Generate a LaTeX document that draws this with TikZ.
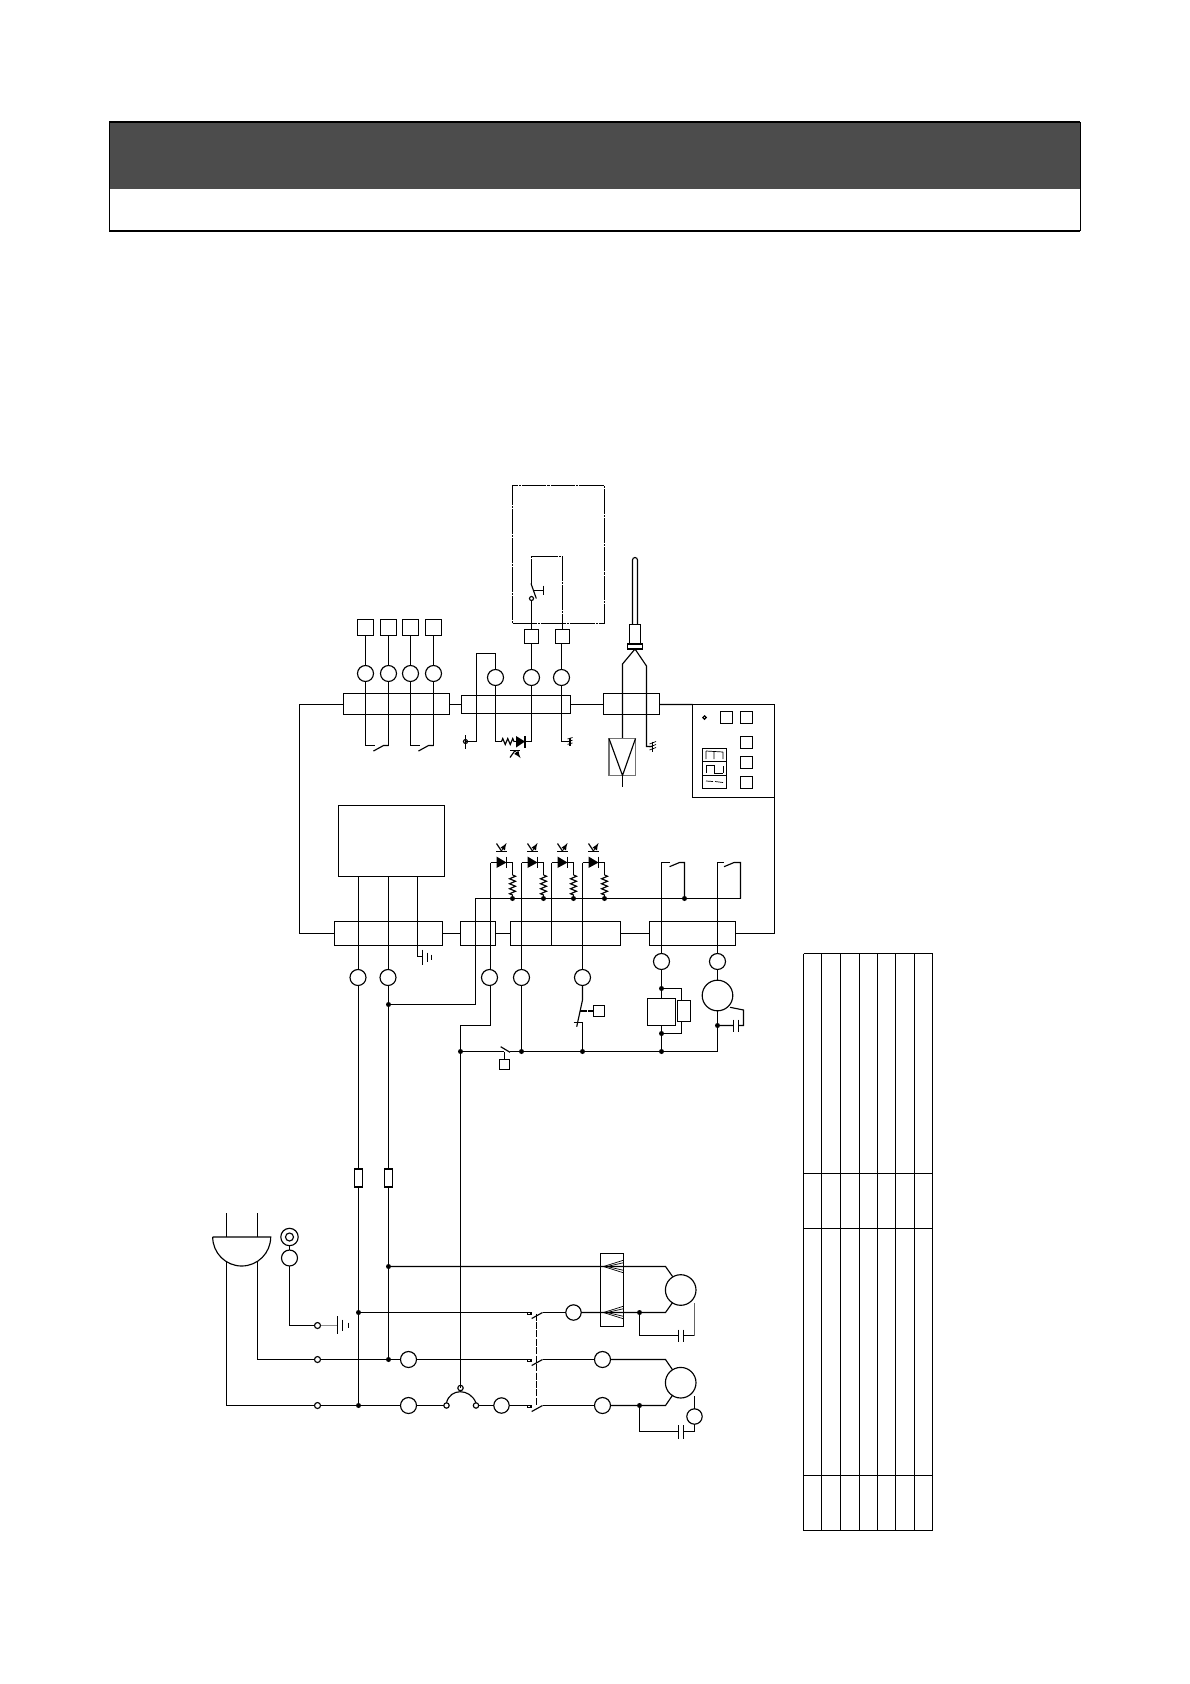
\documentclass[tikz,border=0pt]{standalone}
\usetikzlibrary{decorations.pathmorphing}
\def\u{0.02cm}
\tikzset{
	cerchio/.style={circle,draw,inner sep=0,outer sep=0,minimum size=#1*\u},
	cerchio/.default=16,
	quadro/.style={rectangle,draw,inner sep=0,outer sep=0,minimum size=#1*\u},
	barra/.style 2 args={rectangle,draw,inner sep=0,outer sep=0,minimum width=#1*\u,minimum height=#2*\u},
	nodo/.style={circle,fill=black,inner sep=0,outer sep=0,minimum size=5*\u},
	molla/.style={decorate,decoration={zigzag,segment length=5*\u,amplitude=3*\u}},
	tratto/.style={dash pattern=on 14pt off 0.6pt on 1.2pt off 0.6pt},
	trattini/.style={dash pattern=on 4pt off 0.8pt},
	fine/.style={line width=0.4pt}
}
\begin{document}
\begin{tikzpicture}[>=latex, x=\u, y=-\u, line width=0.65pt]
	\useasboundingbox (0,0) rectangle (1190,1684);
	\def\Ya{1266.5}
	\def\Yb{1312.5}
	\def\Yc{1359.5}
	\def\Yd{1405.5}
	\def\Ysu{704.5}
	\def\Ygiu{933.5}

	% --- Intestazione ---
	\fill[black!70] (109,122) rectangle (1080,189);
	\draw[fine] (109,122) -- (109,231) (1080,122) -- (1080,231);
	\draw[line width=1pt] (109,122) -- (1080,122) (109,231) -- (1080,231);

	% --- Tabella ---
	\foreach \x in {803.5,821.5,840.5,859.5,877.5,895.5,914.5,932.5}
		\draw (\x,953.5) -- (\x,1530.5);
	\foreach \y in {953.5,1173.5,1228.5,1475.5,1530.5}
		\draw (803.5,\y) -- (932.5,\y);

	% --- Morsettiere ---
	\node[barra={106}{21}] (mA) at (396.5,704) {};
	\node[barra={109}{18}] (mB) at (516,704.5) {};
	\node[barra={56}{21}] (mC) at (631.5,704) {};
	\node[barra={108}{24}] (mD) at (388.5,933.5) {};
	\node[barra={35}{24}] (mE) at (478,933.5) {};
	\node[barra={110}{24}] (mF) at (565.5,933.5) {};
	\node[barra={86}{24}] (mG) at (692.5,933.5) {};
	\node[barra={23}{73}] (mH) at (612,1290) {};

	% --- Quadro comandi ---
	\node[barra={82}{93}] (pannello) at (733.5,751) {};
	\node[cerchio=3.4] (led0) at (704.5,717.5) {};
	\foreach \n/\x/\y in {a/726.5/717.5,b/746.5/717.5,c/746.5/742.5,d/746.5/762.5,e/746.5/782.5}
		\node[quadro=12] (tasto\n) at (\x,\y) {};
	\node[barra={24}{40}] (display) at (714.5,768.5) {};
	\draw (702.5,761.5) -- (726.5,761.5) (702.5,775.5) -- (726.5,775.5);
	% Cifre
	\draw[fine] (706,751) -- (706,759) (714,751) -- (714,759) (723,752) -- (723,759) (706,751) -- (723,752);
	\draw[fine] (706,765) -- (706,773) (714,765) -- (714,773) (723,766) -- (723,773) (706,765) -- (714,765) (714,773) -- (723,773);
	\draw[fine] (706,781) -- (713,781.5) (715,781.5) -- (723,782.5);

	% --- Anello di collegamento ---
	\draw (mA.west |- 0,\Ysu) -- (299.5,\Ysu) -- (299.5,\Ygiu) -- (mD.west |- 0,\Ygiu);
	\draw (mA.east |- 0,\Ysu) -- (mB.west |- 0,\Ysu);
	\draw (mB.east |- 0,\Ysu) -- (mC.west |- 0,\Ysu);
	\draw (mC.east |- 0,\Ysu) -- (pannello.north west);
	\draw (pannello.south east) -- (774.5,\Ygiu) -- (mG.east |- 0,\Ygiu);
	\draw (mD.east |- 0,\Ygiu) -- (mE.west |- 0,\Ygiu);
	\draw (mE.east |- 0,\Ygiu) -- (mF.west |- 0,\Ygiu);
	\draw (mF.east |- 0,\Ygiu) -- (mG.west |- 0,\Ygiu);

	% --- Sonde superiori ---
	\foreach \n/\x in {a/365.5,b/388.5,c/410.5,d/433.5} {
		\node[quadro=16] (q\n) at (\x,627.5) {};
		\node[cerchio] (t\n) at (\x,673.5) {};
		\draw (q\n) -- (t\n);
		\draw (t\n) -- (\x,745.5);
	}
	\foreach \x in {365.5,410.5} {
		\draw (\x,745.5) -- ++(9,0);
		\draw (\x+8,751) -- ++(10,-5.5) -- (\x+23,745.5);
	}

	% --- Fungo e contatto ---
	\node[barra={92}{138},tratto] (fungo) at (558.5,554.5) {};
	\node[quadro=14] (qe) at (531.5,636.5) {};
	\node[quadro=14] (qf) at (562.5,636.5) {};
	\node[cerchio] (te) at (531.5,677.5) {};
	\node[cerchio] (tf) at (561.5,677.5) {};
	\node[cerchio] (tg) at (495.5,677.5) {};
	\node[cerchio=4] (cont) at (531.5,598.5) {};
	\coordinate (gi) at (531.5,556.5);
	\draw (cont) -- (qe);
	\draw (qe) -- (te);
	\draw (qf.south -| tf) -- (tf);
	\draw[tratto] (531.5,583.5) -- (gi) -- (562.5,556.5) -- (qf);
	\draw (531,583.5) -- (536.3,598.5);
	\draw (533.5,590.5) -- (543.5,590.5);
	\draw (543.5,585.7) -- (543.5,595);

	% --- Collegamenti centrali ---
	\draw (tg) -- (495.5,653.5) -- (476.5,653.5) -- (476.5,741.5) -- (465.5,741.5);
	\draw (465.5,735) -- (465.5,748.5);
	\draw (465.5,741.5) circle[radius=2];
	\draw (tg) -- (495.5,741.5) -- (501.5,741.5);
	\draw[molla] (501.5,741.5) -- (514,741.5);
	\draw (514,741.5) -- (516,741.5);
	\fill (516,736) -- (525,741.5) -- (516,747.5) -- cycle;
	\draw (525,736) -- (525,747.5);
	\draw (525,741.5) -- (531.5,741.5);
	\draw (te) -- (531.5,741.5);
	\draw (510,750.5) -- (520,750.5);
	\draw (515,750.5) -- (510,757.5);
	\draw[fine,->] (515,750.5) -- (520.5,758);
	\draw (tf) -- (561.5,741.5) -- (570,741.5);
	\draw (570,737.5) -- (570,745.5);
	\foreach \d in {0,2.7,5.4}
		\draw[fine] (567.5,739+\d) -- (572.5,737.5+\d);

	% --- Sensore ---
	\node[barra={11}{20}] (gambo) at (635,634.5) {};
	\node[barra={15}{5}] (flangia) at (635,646.5) {};
	\draw (632.5,624.5) -- (632.5,560) arc[start angle=180,end angle=360,radius=2.5] -- (637.5,624.5);
	\draw (622.5,738.5) -- (622.5,664) -- (flangia.south) -- (646.5,666) -- (646.5,746.5) -- (652.5,746.5);
	\draw (652.5,741.5) -- (652.5,751.5);
	\foreach \d in {0,3,6}
		\draw[fine] (649.5,744+\d) -- (656,741.5+\d);
	\draw[black!55,line width=0.9pt] (609,738.5) rectangle (635.5,775.5);
	\draw (609,738.5) -- (622.5,775.5) -- (635.5,738.5);
	\draw (622.5,775.5) -- (622.5,786.5);

	% --- Scheda e terra ---
	\node[barra={106}{71}] (scheda) at (391.5,841) {};
	\node[cerchio] (pa) at (358,977.5) {};
	\node[cerchio] (pb) at (388,977.5) {};
	\draw (358.5,876.5) -- (358.5,969.5);
	\draw (388.5,876.5) -- (388.5,969.5);
	\draw (417.5,876.5) -- (417.5,956.5) -- (422.5,956.5);
	\draw (422.5,949.5) -- (422.5,964.5) (427.5,952.5) -- (427.5,961.5) (431.5,954.5) -- (431.5,959.5);

	% --- LED e resistenze ---
	\draw (475.5,1004.5) -- (475.5,898.5) -- (740.5,898.5);
	\foreach \x in {490.5,521.5,551.5,582.5} {
		\draw (\x,862.5) -- (\x+6,862.5);
		\fill (\x+6,856.5) -- (\x+16,862.5) -- (\x+6,868) -- cycle;
		\draw (\x+16,856.5) -- (\x+16,868);
		\draw (\x+16,862.5) -- (\x+22,862.5) -- (\x+22,875);
		\draw[molla] (\x+22,875) -- (\x+22,895);
		\draw (\x+22,895) -- (\x+22,898.5);
		\node[nodo] at (\x+22,898.5) {};
		\draw (\x+5.5,851.5) -- (\x+16.5,851.5);
		\draw (\x+11,851) -- (\x+6,843.5);
		\draw[fine,->] (\x+11,851) -- (\x+16,843);
	}
	\node[cerchio] (pc) at (489.5,977.5) {};
	\node[cerchio] (pd) at (521.5,977.5) {};
	\node[cerchio] (pe) at (582.5,977.5) {};
	\draw (490.5,862.5) -- (490.5,969.5);
	\draw (521.5,862.5) -- (pd);
	\draw (551.5,862.5) -- (551.5,945.5);
	\draw (582.5,862.5) -- (pe);

	% --- Uscite carichi ---
	\node[nodo] (ja) at (388.5,1004.5) {};
	\node[nodo] (jb) at (460.5,1051.5) {};
	\node[nodo] (jc) at (521.5,1051.5) {};
	\node[nodo] (jd) at (582.5,1051.5) {};
	\node[nodo] (je) at (661.5,1051.5) {};
	\draw (ja) -- (475.5,1004.5);
	\draw (490.5,985.5) -- (490.5,1025.5) -- (460.5,1025.5) -- (jb);
	\draw (pd) -- (jc);
	\draw (jb) -- (504,1051.5);
	\draw (500.7,1046.7) -- (510,1052.3);
	\draw (510,1051.5) -- (jc) -- (jd) -- (je) -- (717.5,1051.5);
	\node[quadro=10] (qg) at (504.5,1064.5) {};
	\draw[trattini] (504.5,1051.5) -- (qg.north);

	% Contatto pressostato
	\draw (pe) -- (582.5,1000) -- (576.7,1026.7);
	\draw (573.5,1022.5) -- (582.5,1022.5) -- (jd);
	\node[quadro=11] (qh) at (599,1011) {};
	\draw[trattini] (579.5,1011) -- (qh);

	% Bobina
	\node[cerchio] (pf) at (661.5,961.5) {};
	\node[nodo] (jf) at (661.5,988.5) {};
	\node[nodo] (jg) at (661.5,1033.5) {};
	\node[barra={28}{27}] (bob) at (661.5,1012) {};
	\node[barra={13}{21}] (bobb) at (684,1011) {};
	\draw (pf) -- (jf) -- (661.5,998.5);
	\draw (jf) -- (681.5,988.5) -- (681.5,1000.5);
	\draw (681.5,1021.5) -- (681.5,1033.5) -- (jg);
	\draw (661.5,1025.5) -- (jg) -- (je);
	\draw (pf) -- (661.5,862.5) -- (669.5,862.5);
	\draw (669.5,866.7) -- (679.5,862.5) -- (684.5,862.5) -- (684.5,898.5);
	\node[nodo] at (684.5,898.5) {};

	% Motore ventola
	\node[cerchio] (pg) at (717.5,961.5) {};
	\node[cerchio=30.6] (mot) at (717.5,995.5) {};
	\node[nodo] (jh) at (717.5,1025.5) {};
	\draw (pg) -- (mot);
	\draw (mot) -- (jh) -- (717.5,1051.5);
	\draw (pg) -- (717.5,862.5) -- (724,862.5);
	\draw (724,866.7) -- (734,862.5) -- (740.5,862.5) -- (740.5,898.5);
	\draw (jh) -- (733.5,1025.5) (738.5,1025.5) -- (743.5,1025.5) -- (743.5,1010) -- (730,1007.3);
	\draw (733.5,1019.5) -- (733.5,1032) (738.5,1019.5) -- (738.5,1032);

	% --- Spina ---
	\draw (212.7,1237) -- (270.7,1237) arc[start angle=0,end angle=180,radius=29];
	\draw (226.5,1213) -- (226.5,1237) (257.5,1213) -- (257.5,1237);
	\node[cerchio=17.4] (pin) at (289.5,1237) {};
	\node[cerchio=8] at (289.5,1237) {};
	\node[cerchio] (pt) at (289.5,1258) {};
	\draw (pin) -- (pt);
	\node[cerchio=6] (sa) at (317.5,1325.5) {};
	\node[cerchio=6] (sb) at (317.5,\Yc) {};
	\node[cerchio=6] (sc) at (317.5,\Yd) {};
	\draw (pt) -- (289.5,1325.5) -- (sa);
	\draw[black!45,line width=1pt] (sa) -- (337.5,1325.5);
	\draw (337.5,1316) -- (337.5,1334) (342.5,1319.5) -- (342.5,1331) (348.5,1322.5) -- (348.5,1327.5);
	\draw (257.5,1262) -- (257.5,\Yc) -- (sb);
	\draw (226.5,1261) -- (226.5,\Yd) -- (sc);

	% --- Fusibili ---
	\node[barra={8}{18}] (fa) at (358.5,1178) {};
	\node[barra={8}{18}] (fb) at (388.5,1178) {};
	\node[nodo] (ka) at (358.5,\Yb) {};
	\node[nodo] (kb) at (358.5,\Yd) {};
	\node[nodo] (kc) at (388.5,\Ya) {};
	\node[nodo] (kd) at (388.5,\Yc) {};
	\draw (358.5,985.5) -- (fa);
	\draw (388.5,985.5) -- (fb);
	\draw (fa) -- (ka) -- (kb);
	\draw (fb) -- (kc) -- (kd);
	\draw (jb) -- (460.5,1388);

	% --- Linee principali ---
	\node[cerchio] (ra) at (408.5,\Yc) {};
	\node[cerchio] (rb) at (408.5,\Yd) {};
	\node[cerchio=15.4] (rc) at (501.5,\Yd) {};
	\node[cerchio=15.4] (rd) at (573.5,\Yb) {};
	\node[cerchio] (re) at (602.5,\Yc) {};
	\node[cerchio] (rf) at (602.5,\Yd) {};
	\node[cerchio=5.4] (ta) at (446.5,\Yd) {};
	\node[cerchio=5.4] (tb) at (476,\Yd) {};
	\node[cerchio=5.4] (tc) at (460.5,1388) {};
	\draw (ta.north) .. controls (450,1388) and (470,1388) .. (tb.north);
	\draw (sb) -- (kd) -- (ra);
	\draw (sc) -- (kb) -- (rb);
	\draw (rb) -- (ta);
	\draw (tb) -- (rc);
	\draw (ra) -- (527.5,\Yc);
	\draw (rc) -- (527.5,\Yd);
	\draw (ka) -- (527.5,\Yb);
	\foreach \y in {\Yb,\Yc,\Yd} {
		\draw (527.5,\y) rectangle (531,\y+2);
		\draw (531.7,\y+6) -- (542.5,\y);
	}
	\draw[trattini] (536.5,\Yb+1) -- (536.5,\Yd);
	\draw (542.5,\Yb) -- (rd);
	\draw (542.5,\Yc) -- (re);
	\draw (542.5,\Yd) -- (rf);

	% --- Motori ---
	\node[cerchio=30.6] (ma) at (680.7,1290) {};
	\node[cerchio=30.6] (mb) at (680.7,1382.7) {};
	\node[nodo] (la) at (639.5,\Yb) {};
	\node[nodo] (lb) at (639.5,\Yd) {};
	\draw (kc) -- (665.5,\Ya) -- (672.7,1276.7);
	\draw (rd) -- (la) -- (665.5,\Yb) -- (672.7,1302.3);
	\draw (re) -- (665.5,\Yc) -- (672.7,1370);
	\draw (rf) -- (lb) -- (665.5,\Yd) -- (672.7,1395);
	\foreach \y in {\Ya,\Yb} {
		\draw[fine] (603.5,\y) -- (623.5,\y-6.3) (603.5,\y) -- (623.5,\y+6.3);
		\draw[fine] (607,\y) -- (623.5,\y-3.8) (607,\y) -- (623.5,\y+3.8);
	}
	% Condensatori
	\draw (la) -- (639.5,1335.5) -- (678.5,1335.5) (683.5,1335.5) -- (694.5,1335.5);
	\draw[black!60] (694.5,1335.5) -- (694.5,1303.3);
	\draw (678.5,1329.5) -- (678.5,1341.5) (683.5,1329.5) -- (683.5,1341.5);
	\node[cerchio=15.4] (rg) at (694.5,1416.5) {};
	\draw (lb) -- (639.5,1431.5) -- (678.5,1431.5) (683.5,1431.5) -- (694.5,1431.5) -- (rg);
	\draw (rg) -- (694.5,1396);
	\draw (678.5,1425) -- (678.5,1438.5) (683.5,1425) -- (683.5,1438.5);
\end{tikzpicture}
\end{document}
